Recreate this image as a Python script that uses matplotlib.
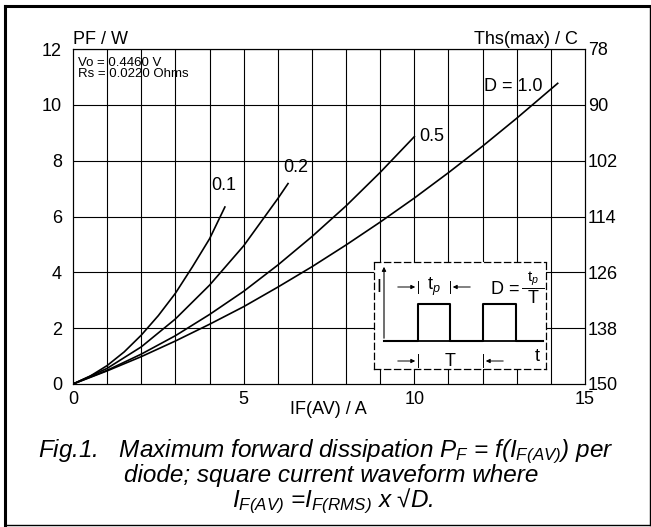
import matplotlib
matplotlib.use('Agg')
import matplotlib.pyplot as plt
from matplotlib.lines import Line2D

plt.rcParams['font.family'] = ['Liberation Sans', 'DejaVu Sans']
plt.rcParams['mathtext.fontset'] = 'custom'
plt.rcParams['mathtext.rm'] = 'Liberation Sans:italic'
plt.rcParams['mathtext.it'] = 'Liberation Sans:italic'

# curve data (IF(AV) in A, PF in W)
x_d01 = [0, 0.5, 1, 1.5, 2, 2.5, 3, 3.5, 4, 4.45]
p_d01 = [0, 0.28, 0.66, 1.15, 1.75, 2.45, 3.25, 4.2, 5.2, 6.34]
x_d02 = [0, 1, 2, 3, 4, 5, 6, 6.3]
p_d02 = [0, 0.56, 1.33, 2.33, 3.54, 4.95, 6.64, 7.18]
x_d05 = [0, 1, 2, 3, 4, 5, 6, 7, 8, 9, 10]
p_d05 = [0, 0.49, 1.07, 1.73, 2.49, 3.32, 4.26, 5.28, 6.38, 7.58, 8.86]
x_d10 = [0, 1, 2, 3, 4, 5, 6, 7, 8, 9, 10, 11, 12, 13, 14.2]
p_d10 = [0, 0.47, 0.98, 1.54, 2.14, 2.77, 3.47, 4.2, 4.98, 5.8, 6.66, 7.57, 8.52, 9.52, 10.77]

curve_labels = ['0.1', '0.2', '0.5', 'D = 1.0']
label_pos = [(4.05, 7.1), (6.15, 7.75), (10.15, 8.85), (12.05, 10.65)]

y_ticks = [0, 2, 4, 6, 8, 10, 12]
x_ticks = [0, 5, 10, 15]
ths_labels = ['150', '138', '126', '114', '102', '90', '78']

FS = 13
W, H = 651, 527
fig = plt.figure(figsize=(W / 100, H / 100), dpi=100)


def px(x0, y0, x1, y1):
    return [x0 / W, 1 - y1 / H, (x1 - x0) / W, (y1 - y0) / H]


ax = fig.add_axes(px(73, 49, 585, 384))
ax.set_xlim(0, 15)
ax.set_ylim(0, 12)
for v in range(1, 15):
    ax.axvline(v, color='black', lw=0.8)
for v in y_ticks[1:]:
    ax.axhline(v, color='black', lw=0.8)
for s in ax.spines.values():
    s.set_linewidth(0.8)

ax.set_xticks(x_ticks)
ax.set_yticks(y_ticks)
ax.tick_params(length=0, labelsize=FS, pad=8)
ax.tick_params(axis='x', pad=5)

ax2 = ax.twinx()
ax2.set_ylim(0, 12)
ax2.set_yticks(y_ticks)
ax2.set_yticklabels(ths_labels)
ax2.tick_params(length=0, labelsize=FS, pad=2)

curves = [(x_d01, p_d01), (x_d02, p_d02), (x_d05, p_d05), (x_d10, p_d10)]
for (xs, ps), lab, (lx, ly) in zip(curves, curve_labels, label_pos):
    ax.plot(xs, ps, color='black', lw=1.2, zorder=5)
    ax.text(lx, ly, lab, fontsize=FS, va='center', ha='left', zorder=6)

fig.text(73 / W, 1 - 40 / H, 'PF / W', fontsize=FS, va='center', ha='left')
fig.text(578 / W, 1 - 40 / H, 'Ths(max) / C', fontsize=FS, va='center', ha='right')
ax.text(0.01, 0.975, 'Vo = 0.4460 V\nRs = 0.0220 Ohms', transform=ax.transAxes,
        fontsize=9.5, va='top', ha='left', linespacing=0.8)
fig.text(328 / W, 1 - 409 / H, 'IF(AV) / A', fontsize=FS, va='center', ha='center')

# caption
cap = dict(fontsize=17.5, style='italic', ha='center', va='baseline')
fig.text(326 / W, 1 - 457 / H,
         'Fig.1.   Maximum forward dissipation $P_F$ = f($I_{F(AV)}$) per', **cap)
fig.text(331 / W, 1 - 482 / H, 'diode; square current waveform where', **cap)
fig.text(333 / W, 1 - 507 / H, '$I_{F(AV)}$ =$I_{F(RMS)}$ x \u221aD.', **cap)

# inset schematic (local pixel coords)
ins = fig.add_axes(px(374, 262, 546, 369))
ins.set_xlim(374, 546)
ins.set_ylim(369, 262)
ins.set_xticks([])
ins.set_yticks([])
ins.set_facecolor('white')
for s in ins.spines.values():
    s.set_linestyle((0, (5, 3)))
    s.set_linewidth(0.9)
ins.set_zorder(10)

ins.annotate('', xy=(384, 264), xytext=(384, 341),
             arrowprops=dict(arrowstyle='-|>', lw=0.8, color='black', mutation_scale=6))
ins.plot([384, 543], [341, 341], color='black', lw=1.3)
ins.plot([384, 418, 418, 450, 450, 483, 483, 516, 516, 543],
         [341, 341, 304, 304, 341, 341, 304, 304, 341, 341], color='black', lw=1.5)
for xv in [418, 450]:
    ins.plot([xv, xv], [281, 293], color='black', lw=0.7)
for xv in [418, 483]:
    ins.plot([xv, xv], [354, 367], color='black', lw=0.7)
arrow = dict(arrowstyle='-|>', lw=0.7, color='black', mutation_scale=6)
ins.annotate('', xy=(418, 287), xytext=(395, 287), arrowprops=arrow)
ins.annotate('', xy=(450, 287), xytext=(473, 287), arrowprops=arrow)
ins.annotate('', xy=(418, 361), xytext=(395, 361), arrowprops=arrow)
ins.annotate('', xy=(483, 361), xytext=(506, 361), arrowprops=arrow)
ins.text(379, 288, 'I', fontsize=FS, ha='center', va='center')
ins.text(434, 287, 't$_\\mathrm{p}$', fontsize=FS, ha='center', va='center')
ins.text(450, 362, 'T', fontsize=FS, ha='center', va='center')
ins.text(537, 357, 't', fontsize=FS, ha='center', va='center')
ins.text(505, 290, 'D =', fontsize=FS, ha='center', va='center')
ins.plot([522, 544], [288, 288], color='black', lw=0.7)
ins.text(533, 279, 't$_\\mathrm{p}$', fontsize=11, ha='center', va='center')
ins.text(533, 299, 'T', fontsize=FS, ha='center', va='center')

# outer frame
fig.add_artist(Line2D([5 / W, 5 / W], [1 - 6 / H, 1 - 525 / H], color='black', lw=2.2))
fig.add_artist(Line2D([5 / W, 650 / W], [1 - 6 / H, 1 - 6 / H], color='black', lw=2.2))
fig.add_artist(Line2D([5 / W, 650 / W], [1 - 525 / H, 1 - 525 / H], color='black', lw=1.0))
fig.add_artist(Line2D([650 / W, 650 / W], [1 - 6 / H, 1 - 525 / H], color='black', lw=1.0))

fig.savefig('out.png', dpi=100)
